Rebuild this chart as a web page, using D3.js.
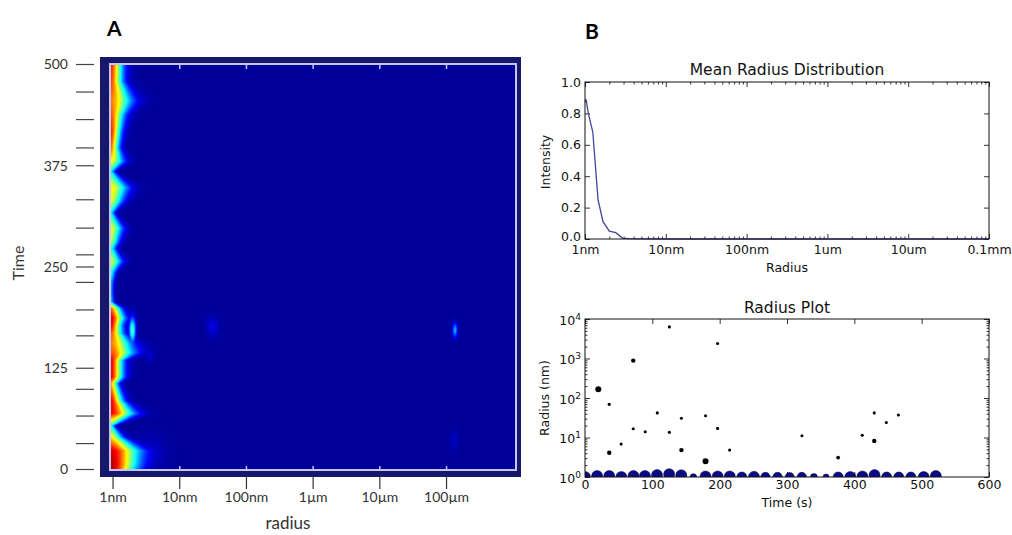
<!DOCTYPE html>
<html>
<head>
<meta charset="utf-8">
<script src="https://cdn.jsdelivr.net/npm/d3@7"></script>
<style>
  body { margin: 0; background: #fff; }
  svg { display: block; }
</style>
</head>
<body>
<div id="chart"></div>
<script>
// ---- panel A: heat map ----
// time (s), radius (nm) where the colour fades back to blue, colour level at the 1nm edge
let heatTime = [0, 7, 23, 40, 54, 69, 85, 106, 114, 135, 144, 156, 168, 178, 187, 199, 207, 220, 231, 244, 257, 273, 281, 298, 317, 331, 348, 368, 380, 397, 417, 438, 455, 479, 500]
let heatEdge = [2.0, 2.14, 2.27, 1.35, 1.05, 1.9, 1.35, 1.16, 1.35, 1.35, 1.9, 1.75, 1.35, 1.3, 1.41, 1.27, 1.03, 1.02, 1.03, 1.1, 1.32, 1.1, 1.2, 1.35, 1.05, 1.35, 1.6, 1.05, 1.41, 1.2, 1.27, 1.41, 1.8, 1.35, 1.35]
let heatPeak = [0.95, 0.95, 0.92, 0.65, 0.42, 0.88, 0.9, 0.72, 0.9, 0.9, 0.8, 0.75, 0.8, 0.9, 0.92, 0.78, 0.35, 0.3, 0.32, 0.42, 0.6, 0.42, 0.55, 0.62, 0.38, 0.6, 0.65, 0.38, 0.62, 0.78, 0.86, 0.8, 0.75, 0.82, 0.85]

// isolated spots away from the edge
let blobTime = [172, 176, 172, 141, 36, 20]
let blobRadius = [1.95, 31, 134000, 3.6, 130000, 3.5]
let blobLevel = [0.45, 0.1, 0.3, 0.08, 0.07, 0.08]
let blobSpreadT = [11, 8, 6, 6, 8, 14]
let blobSpreadR = [0.035, 0.06, 0.025, 0.04, 0.04, 0.15]

let timeTicks = [0, 125, 250, 375, 500]
let timeMinor = [32, 66, 99, 165, 197, 231, 265, 298, 333, 397, 432, 466]
let radiusTicks = [1, 10, 100, 1e3, 1e4, 1e5]
let radiusLabels = ['1nm', '10nm', '100nm', '1µm', '10µm', '100µm']

// ---- panel B top: mean radius distribution ----
let mrdRadius = [1, 1.03, 1.1, 1.25, 1.45, 1.67, 2.0, 2.4, 2.9, 3.5, 5, 10, 100, 1e3, 1e4, 1e5]
let mrdIntensity = [0.87, 0.89, 0.8, 0.68, 0.25, 0.11, 0.05, 0.04, 0.006, 0.002, 0.001, 0, 0, 0, 0, 0]
let mrdTicks = [1, 10, 100, 1e3, 1e4, 1e5]
let mrdLabels = ['1nm', '10nm', '100nm', '1um', '10um', '0.1mm']
let intensityTicks = [0, 0.2, 0.4, 0.6, 0.8, 1.0]

// ---- panel B bottom: radius plot ----
let blueTime = [0, 18, 36, 54, 72, 89, 107, 125, 143, 161, 179, 197, 215, 233, 251, 268, 286, 304, 322, 340, 358, 376, 394, 412, 430, 448, 466, 484, 503, 521]
let blueRadius = [1.0, 1.06, 1.06, 1.0, 1.06, 1.06, 1.12, 1.18, 1.11, 1.0, 1.03, 1.03, 1.03, 1.0, 1.01, 1.0, 1.0, 1.0, 1.0, 1.0, 1.0, 1.0, 1.0, 1.03, 1.12, 1.0, 1.0, 1.0, 1.0, 1.06]
let blueWeight = [1, 1, 1, 1, 1, 1, 1, 1, 1, 0.36, 1, 1, 1, 0.83, 1, 0.73, 0.73, 0.67, 0.73, 0.4, 0.3, 0.83, 1, 1, 1, 0.83, 0.83, 0.83, 1, 1]

let dotTime = [19.8, 36, 36, 53.7, 71.6, 71.6, 89.5, 107.4, 125.3, 125.3, 143.2, 143.2, 179, 179, 196.9, 196.9, 214.8, 322.2, 375.9, 411.7, 429.6, 429.6, 447.5, 465.4]
let dotRadius = [166, 69, 4.1, 6.8, 885, 16.7, 14, 42, 6300, 13.5, 30.6, 4.8, 35.6, 2.5, 2400, 17, 4.8, 11.1, 3.1, 11.4, 42, 8.2, 24, 37]
let dotWeight = [0.3, 0.08, 0.16, 0.08, 0.16, 0.08, 0.08, 0.08, 0.08, 0.08, 0.08, 0.16, 0.08, 0.3, 0.08, 0.08, 0.08, 0.08, 0.12, 0.08, 0.08, 0.16, 0.08, 0.08]

let timeSTicks = [0, 100, 200, 300, 400, 500, 600]
let radiusPlotTicks = [1, 10, 100, 1000, 10000]

let width = 1012
let height = 535

let svg = d3
  .select('#chart')
  .append('svg')
  .attr('width', width)
  .attr('height', height)

let fontA = 'Lato, "Open Sans", sans-serif'
let fontB = '"DejaVu Sans", sans-serif'

// matplotlib 'jet'
let jet = d3
  .scaleLinear()
  .domain([0, 0.125, 0.375, 0.625, 0.875, 1])
  .range(['#00007f', '#0000ff', '#00ffff', '#ffff00', '#ff0000', '#7f0000'])
  .clamp(true)

// ================= panel A =================
let aLeft = 110, aRight = 516, aTop = 64, aBottom = 470

let xA = d3.scaleLog().domain([0.9, 1.1e6]).range([aLeft, aRight])
let yA = d3.scaleLinear().domain([0, 500]).range([469.5, 64.5])

svg.append('text')
  .attr('x', 107).attr('y', 36)
  .attr('font-family', 'Lato, sans-serif')
  .attr('font-weight', 'bold')
  .attr('font-size', 21)
  .text('A')

// dark frame around the map
svg.append('rect')
  .attr('x', 100).attr('y', 57)
  .attr('width', 421).attr('height', 420)
  .attr('fill', '#17186c')

// paint the map into a canvas then drop it in as an image
let cw = aRight - aLeft
let ch = aBottom - aTop
let canvas = document.createElement('canvas')
canvas.width = cw
canvas.height = ch
let ctx = canvas.getContext('2d')
let img = ctx.createImageData(cw, ch)

let edgeAt = d3.scaleLinear().domain(heatTime).range(heatEdge).clamp(true)
let peakAt = d3.scaleLinear().domain(heatTime).range(heatPeak).clamp(true)
let bg = 0.025

for (let j = 0; j < ch; j++) {
  let t = yA.invert(aTop + j + 0.5)
  let reach = Math.max(3, xA(edgeAt(t)) - aLeft)
  let pk = peakAt(t)
  for (let i = 0; i < cw; i++) {
    let x = aLeft + i + 0.5
    let p = i + 0.5
    let v = bg + (pk - bg) * Math.exp(-1.0 * Math.pow(p / reach, 2))
    let d = Math.log10(xA.invert(x))
    for (let b = 0; b < blobTime.length; b++) {
      let dt = (t - blobTime[b]) / blobSpreadT[b]
      let dd = (d - Math.log10(blobRadius[b])) / blobSpreadR[b]
      let q = dt * dt + dd * dd
      if (q < 30) {
        v = Math.max(v, bg + (blobLevel[b] - bg) * Math.exp(-q / 2))
      }
    }
    let c = d3.rgb(jet(v))
    let k = (j * cw + i) * 4
    img.data[k] = c.r
    img.data[k + 1] = c.g
    img.data[k + 2] = c.b
    img.data[k + 3] = 255
  }
}
ctx.putImageData(img, 0, 0)

svg.append('image')
  .attr('x', aLeft).attr('y', aTop)
  .attr('width', cw).attr('height', ch)
  .attr('preserveAspectRatio', 'none')
  .attr('href', canvas.toDataURL())

// light inner border with small ticks on it
svg.append('rect')
  .attr('x', aLeft).attr('y', aTop)
  .attr('width', cw).attr('height', ch)
  .attr('fill', 'none')
  .attr('stroke', '#c4c4f4')
  .attr('stroke-width', 2)

svg.append('g')
  .selectAll('line')
  .data(radiusTicks.slice(1))
  .enter()
  .append('line')
  .attr('x1', d => xA(d)).attr('x2', d => xA(d))
  .attr('y1', aTop).attr('y2', aTop + 5)
  .attr('stroke', '#c4c4f4')
  .attr('stroke-width', 1.5)

svg.append('g')
  .selectAll('line')
  .data(radiusTicks.slice(1))
  .enter()
  .append('line')
  .attr('x1', d => xA(d)).attr('x2', d => xA(d))
  .attr('y1', aBottom).attr('y2', aBottom - 4)
  .attr('stroke', '#c4c4f4')
  .attr('stroke-width', 1.5)

// time ticks, detached from the frame
let yAxisA = svg.append('g').attr('font-family', fontA)

yAxisA.selectAll('.minor')
  .data(timeTicks.concat(timeMinor))
  .enter()
  .append('line')
  .attr('x1', 76).attr('x2', 94)
  .attr('y1', d => yA(d)).attr('y2', d => yA(d))
  .attr('stroke', '#444')
  .attr('stroke-width', 1.2)

yAxisA.selectAll('text')
  .data(timeTicks)
  .enter()
  .append('text')
  .attr('x', 68)
  .attr('y', d => yA(d))
  .attr('dy', '0.35em')
  .attr('text-anchor', 'end')
  .attr('font-size', 14)
  .attr('fill', '#333')
  .text(d => d)

svg.append('text')
  .attr('transform', 'translate(24,263) rotate(-90)')
  .attr('text-anchor', 'middle')
  .attr('font-family', fontA)
  .attr('font-size', 16)
  .attr('fill', '#333')
  .text('Time')

// radius ticks below the frame
let xAxisA = svg.append('g').attr('font-family', fontA)

xAxisA.selectAll('line')
  .data(radiusTicks)
  .enter()
  .append('line')
  .attr('x1', d => xA(d)).attr('x2', d => xA(d))
  .attr('y1', 476).attr('y2', 489)
  .attr('stroke', '#333')
  .attr('stroke-width', 1.2)

xAxisA.selectAll('text')
  .data(radiusTicks)
  .enter()
  .append('text')
  .attr('x', d => xA(d))
  .attr('y', 502)
  .attr('text-anchor', 'middle')
  .attr('font-size', 14)
  .attr('fill', '#333')
  .text((d, i) => radiusLabels[i])

svg.append('text')
  .attr('x', 288).attr('y', 529)
  .attr('text-anchor', 'middle')
  .attr('font-family', fontA)
  .attr('font-size', 17)
  .attr('fill', '#333')
  .text('radius')

// ================= panel B =================
svg.append('text')
  .attr('x', 585).attr('y', 39)
  .attr('font-family', 'Lato, sans-serif')
  .attr('font-weight', 'bold')
  .attr('font-size', 21)
  .text('B')

function inwardTicks(g, axis) {
  g.call(axis)
  g.select('.domain').remove()
  g.selectAll('.tick line').attr('stroke', '#000').attr('stroke-width', 0.8)
  g.selectAll('.tick text')
    .attr('font-family', fontB)
    .attr('font-size', 12.5)
    .attr('fill', '#111')
}

// ---- mean radius distribution ----
let xM = d3.scaleLog().domain([1, 1e5]).range([585, 989])
let yM = d3.scaleLinear().domain([0, 1]).range([239, 82])

let minorM = xM.ticks().filter(d => mrdTicks.indexOf(d) < 0)

let gM = svg.append('g')

gM.append('g')
  .attr('transform', 'translate(0,239)')
  .call(g => inwardTicks(g, d3.axisBottom(xM).tickValues(minorM).tickFormat('').tickSize(-2.5)))
gM.append('g')
  .attr('transform', 'translate(0,82)')
  .call(g => inwardTicks(g, d3.axisTop(xM).tickValues(minorM).tickFormat('').tickSize(-2.5)))
gM.append('g')
  .attr('transform', 'translate(0,239)')
  .call(g => inwardTicks(g, d3.axisBottom(xM).tickValues(mrdTicks).tickFormat((d, i) => mrdLabels[i]).tickSize(-5).tickPadding(6)))
gM.append('g')
  .attr('transform', 'translate(0,82)')
  .call(g => inwardTicks(g, d3.axisTop(xM).tickValues(mrdTicks).tickFormat('').tickSize(-5)))
gM.append('g')
  .attr('transform', 'translate(585,0)')
  .call(g => inwardTicks(g, d3.axisLeft(yM).tickValues(intensityTicks).tickFormat(d3.format('.1f')).tickSize(-5).tickPadding(4)))
gM.append('g')
  .attr('transform', 'translate(989,0)')
  .call(g => inwardTicks(g, d3.axisRight(yM).tickValues(intensityTicks).tickFormat('').tickSize(-5)))

// nudge the 0.0 label up so it clears the 1nm label
gM.selectAll('.tick text').filter(d => d === 0).attr('dy', '0.1em')

let lineM = d3.line()
  .x((d, i) => xM(mrdRadius[i]))
  .y(d => yM(d))

gM.append('path')
  .datum(mrdIntensity)
  .attr('d', lineM)
  .attr('fill', 'none')
  .attr('stroke', '#44449a')
  .attr('stroke-width', 1.3)

gM.append('rect')
  .attr('x', 585).attr('y', 82)
  .attr('width', 404).attr('height', 157)
  .attr('fill', 'none')
  .attr('stroke', '#111')
  .attr('stroke-width', 1)

gM.append('text')
  .attr('x', 787).attr('y', 75)
  .attr('text-anchor', 'middle')
  .attr('font-family', fontB)
  .attr('font-size', 15.5)
  .attr('fill', '#111')
  .text('Mean Radius Distribution')

gM.append('text')
  .attr('x', 787).attr('y', 272)
  .attr('text-anchor', 'middle')
  .attr('font-family', fontB)
  .attr('font-size', 12.5)
  .attr('fill', '#111')
  .text('Radius')

gM.append('text')
  .attr('transform', 'translate(550,162) rotate(-90)')
  .attr('text-anchor', 'middle')
  .attr('font-family', fontB)
  .attr('font-size', 12.5)
  .attr('fill', '#111')
  .text('Intensity')

// ---- radius plot ----
let xR = d3.scaleLinear().domain([0, 600]).range([585, 989])
let yR = d3.scaleLog().domain([1, 1e4]).range([477, 319])
let sizeR = d3.scaleSqrt().domain([0, 1]).range([0, 5.5])

let minorR = yR.ticks().filter(d => radiusPlotTicks.indexOf(d) < 0)

let gR = svg.append('g')

gR.append('clipPath')
  .attr('id', 'clipR')
  .append('rect')
  .attr('x', 585).attr('y', 319)
  .attr('width', 404).attr('height', 158)

gR.append('g')
  .attr('transform', 'translate(0,477)')
  .call(g => inwardTicks(g, d3.axisBottom(xR).tickValues(timeSTicks).tickSize(-5).tickPadding(3)))
gR.append('g')
  .attr('transform', 'translate(0,319)')
  .call(g => inwardTicks(g, d3.axisTop(xR).tickValues(timeSTicks).tickFormat('').tickSize(-5)))
gR.append('g')
  .attr('transform', 'translate(585,0)')
  .call(g => inwardTicks(g, d3.axisLeft(yR).tickValues(minorR).tickFormat('').tickSize(-2.5)))
gR.append('g')
  .attr('transform', 'translate(989,0)')
  .call(g => inwardTicks(g, d3.axisRight(yR).tickValues(minorR).tickFormat('').tickSize(-2.5)))
gR.append('g')
  .attr('transform', 'translate(989,0)')
  .call(g => inwardTicks(g, d3.axisRight(yR).tickValues(radiusPlotTicks).tickFormat('').tickSize(-5)))

let yAxisR = gR.append('g')
  .attr('transform', 'translate(585,0)')
  .call(g => inwardTicks(g, d3.axisLeft(yR).tickValues(radiusPlotTicks).tickFormat('').tickSize(-5)))

yAxisR.selectAll('.tick')
  .append('text')
  .attr('x', -4)
  .attr('dy', '0.4em')
  .attr('text-anchor', 'end')
  .attr('font-family', fontB)
  .attr('font-size', 12.5)
  .attr('fill', '#111')
  .each(function (d) {
    let t = d3.select(this)
    t.append('tspan').text('10')
    t.append('tspan')
      .attr('dy', '-0.55em')
      .attr('font-size', 9)
      .text(Math.round(Math.log10(d)))
  })

gR.append('g')
  .attr('clip-path', 'url(#clipR)')
  .selectAll('circle')
  .data(blueTime)
  .enter()
  .append('circle')
  .attr('cx', d => xR(d))
  .attr('cy', (d, i) => yR(blueRadius[i]))
  .attr('r', (d, i) => sizeR(blueWeight[i]))
  .attr('fill', '#0b0b86')
  .attr('stroke', '#000033')
  .attr('stroke-width', 0.5)

gR.append('g')
  .selectAll('circle')
  .data(dotTime)
  .enter()
  .append('circle')
  .attr('cx', d => xR(d))
  .attr('cy', (d, i) => yR(dotRadius[i]))
  .attr('r', (d, i) => sizeR(dotWeight[i]))
  .attr('fill', '#000')

gR.append('rect')
  .attr('x', 585).attr('y', 319)
  .attr('width', 404).attr('height', 158)
  .attr('fill', 'none')
  .attr('stroke', '#111')
  .attr('stroke-width', 1)

gR.append('text')
  .attr('x', 787).attr('y', 313)
  .attr('text-anchor', 'middle')
  .attr('font-family', fontB)
  .attr('font-size', 15.5)
  .attr('fill', '#111')
  .text('Radius Plot')

gR.append('text')
  .attr('x', 787).attr('y', 507)
  .attr('text-anchor', 'middle')
  .attr('font-family', fontB)
  .attr('font-size', 12.5)
  .attr('fill', '#111')
  .text('Time (s)')

gR.append('text')
  .attr('transform', 'translate(549,398) rotate(-90)')
  .attr('text-anchor', 'middle')
  .attr('font-family', fontB)
  .attr('font-size', 12.5)
  .attr('fill', '#111')
  .text('Radius (nm)')
</script>
</body>
</html>
